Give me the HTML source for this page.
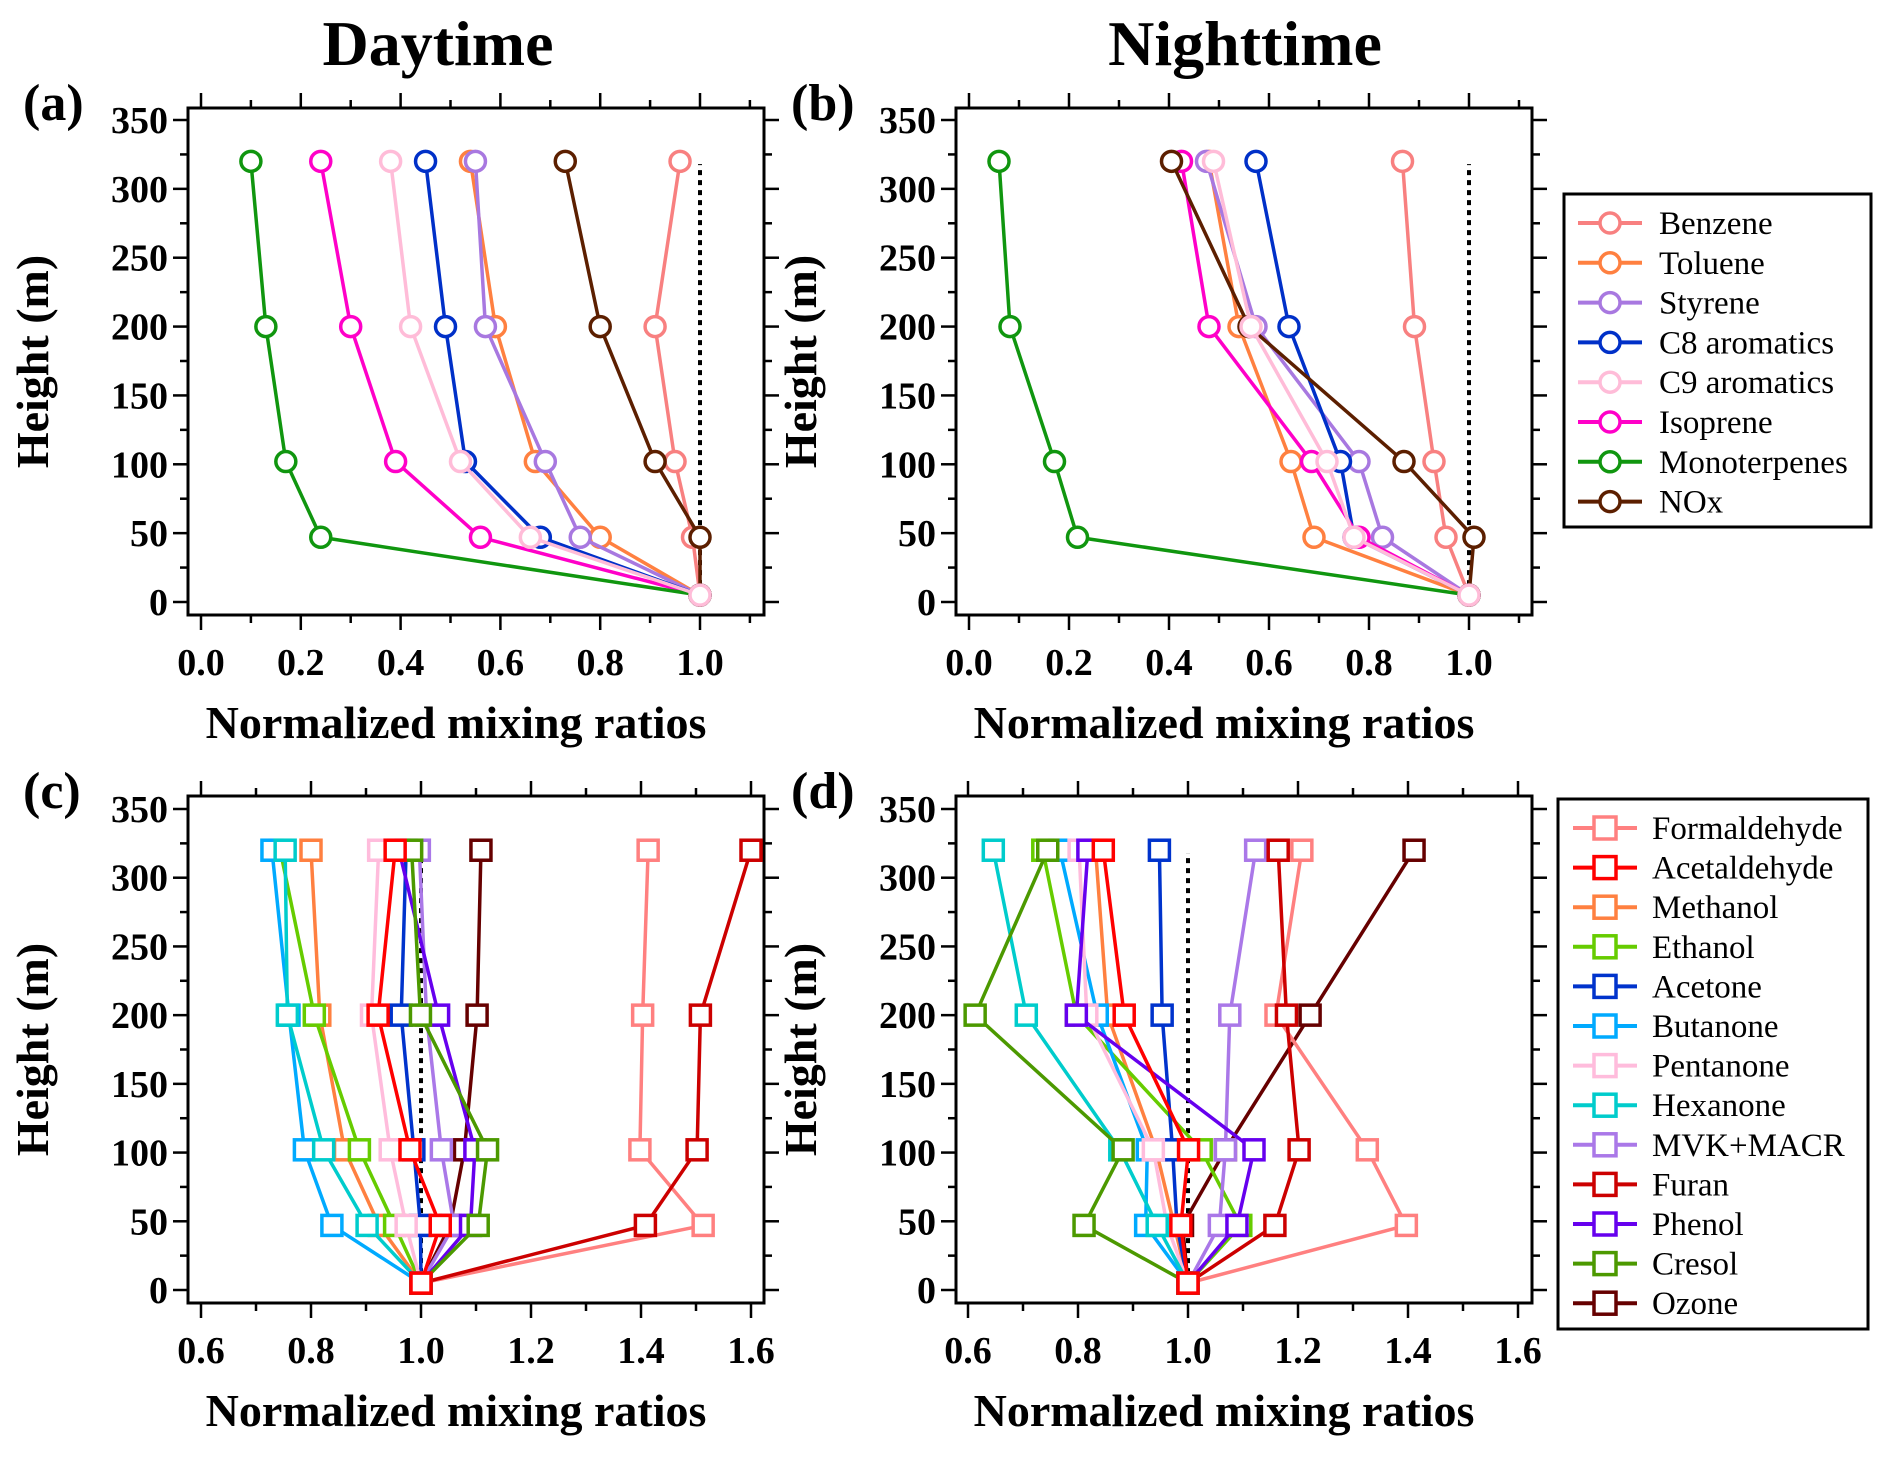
<!DOCTYPE html>
<html><head><meta charset="utf-8"><style>
html,body{margin:0;padding:0;background:#fff}
svg{display:block;font-family:"Liberation Serif",serif}
</style></head><body>
<svg id="fig" width="1891" height="1458" viewBox="0 0 1891 1458" xmlns="http://www.w3.org/2000/svg">
<text x="438" y="65" font-size="64" font-weight="bold" text-anchor="middle">Daytime</text>
<text x="1245" y="65" font-size="64" font-weight="bold" text-anchor="middle">Nighttime</text>
</svg>
<script>
const heights = [5, 47, 102, 200, 320];
const vocNames = ["Benzene","Toluene","Styrene","C8 aromatics","C9 aromatics","Isoprene","Monoterpenes","NOx"];
const vocColors = ["#f88080","#ff8040","#a878e0","#0030c8","#ffbcd8","#ff00c8","#10960f","#5c1f00"];
const dayA = [
 [1,0.985,0.95,0.91,0.96],
 [1,0.80,0.67,0.59,0.54],
 [1,0.76,0.69,0.57,0.55],
 [1,0.68,0.53,0.49,0.45],
 [1,0.66,0.52,0.42,0.38],
 [1,0.56,0.39,0.30,0.24],
 [1,0.24,0.17,0.13,0.10],
 [1,1.0,0.91,0.80,0.73]];
const nightB = [
 [1,0.954,0.93,0.891,0.867],
 [1,0.69,0.644,0.54,0.48],
 [1,0.827,0.78,0.574,0.475],
 [1,0.77,0.743,0.64,0.574],
 [1,0.77,0.716,0.564,0.489],
 [1,0.78,0.685,0.48,0.425],
 [1,0.217,0.171,0.082,0.06],
 [1,1.01,0.87,0.56,0.405]];
const ovocNames = ["Formaldehyde","Acetaldehyde","Methanol","Ethanol","Acetone","Butanone","Pentanone","Hexanone","MVK+MACR","Furan","Phenol","Cresol","Ozone"];
const ovocColors = ["#ff8080","#ff0000","#ff8040","#66cc00","#0033cc","#00aaff","#ffbcdc","#00cccc","#aa78e8","#cc0000","#6600ee","#4c9900","#660000"];
const dayC = [
 [1,1.513,1.398,1.403,1.413],
 [1,1.035,0.98,0.922,0.953],
 [1,0.924,0.861,0.816,0.80],
 [1,0.952,0.888,0.806,0.744],
 [1,0.999,0.987,0.964,0.973],
 [1,0.838,0.788,0.76,0.729],
 [1,0.973,0.944,0.91,0.923],
 [1,0.902,0.823,0.757,0.753],
 [1,1.06,1.037,1.01,0.997],
 [1,1.408,1.502,1.508,1.60],
 [1,1.09,1.098,1.032,0.96],
 [1,1.104,1.121,0.999,0.983],
 [1,1.053,1.079,1.102,1.109]];
const nightD = [
 [1,1.397,1.326,1.16,1.207],
 [1,0.987,1.001,0.884,0.846],
 [1,0.975,0.942,0.854,0.832],
 [1,1.096,1.024,0.797,0.736],
 [1,0.98,0.972,0.953,0.948],
 [1,0.923,0.926,0.835,0.767],
 [1,0.962,0.937,0.816,0.802],
 [1,0.944,0.876,0.706,0.646],
 [1,1.057,1.068,1.076,1.123],
 [1,1.158,1.202,1.179,1.164],
 [1,1.089,1.12,0.797,0.818],
 [1,0.811,0.882,0.613,0.745],
 [1,0.99,1.068,1.222,1.411]];
const xTicksTop = ["0.0","0.2","0.4","0.6","0.8","1.0"];
const xTicksBot = ["0.6","0.8","1.0","1.2","1.4","1.6"];
const yTicks = ["0","50","100","150","200","250","300","350"];
const vocOrder = [0,1,2,3,5,6,7,4];
const ovocOrder = [12,0,2,3,4,5,6,7,8,9,10,11,1];

const NS="http://www.w3.org/2000/svg";
const svg=document.getElementById('fig');
function mk(tag,attrs,parent){const e=document.createElementNS(NS,tag);for(const k in attrs)e.setAttribute(k,attrs[k]);(parent||svg).appendChild(e);return e;}

function panel(cfg){
  const g=mk('g',{});
  
  
  const X=v=>cfg.px0+(v-cfg.xmin)*cfg.pxPerUnit;
  const Y=h=>cfg.py0-h*(cfg.py0-cfg.py350)/350;
  const tk=mk('g',{stroke:'#000','stroke-width':2.5},g);
  
  
  for(let i=0;i<=cfg.nMinorX;i++){
    const v=cfg.xmin+i*cfg.minorX, x=X(v), len=(i%2===0)?15:8;
    mk('line',{x1:x,x2:x,y1:cfg.fy1,y2:cfg.fy1+len},tk);
    mk('line',{x1:x,x2:x,y1:cfg.fy0,y2:cfg.fy0-len},tk);
  }
  for(let i=0;i<=14;i++){
    const y=Y(i*25), len=(i%2===0)?15:8;
    mk('line',{x1:cfg.fx0,x2:cfg.fx0-len,y1:y,y2:y},tk);
    mk('line',{x1:cfg.fx1,x2:cfg.fx1+len,y1:y,y2:y},tk);
  }
  const fr=mk('rect',{x:cfg.fx0,y:cfg.fy0,width:cfg.fx1-cfg.fx0,height:cfg.fy1-cfg.fy0,fill:'none',stroke:'#000','stroke-width':3},g);
  
  
  cfg.xlabels.forEach((t,i)=>{
    const e=mk('text',{x:X(cfg.xmin+i*cfg.minorX*2),y:cfg.fy1+60,'font-size':38,'font-weight':'bold','text-anchor':'middle'},g);
    e.textContent=t;
    
    
  });
  yTicks.forEach(t=>{
    const e=mk('text',{x:cfg.fx0-20,y:Y(+t)+13,'font-size':38,'font-weight':'bold','text-anchor':'end'},g);
    e.textContent=t;
    
    
  });
  const xt=mk('text',{x:(cfg.fx0+cfg.fx1)/2-20,y:cfg.fy1+123,'font-size':46,'font-weight':'bold','text-anchor':'middle'},g);
  xt.textContent='Normalized mixing ratios';
  
  
  const yc=(cfg.fy0+cfg.fy1)/2, ytx=cfg.fx0-140;
  const yt=mk('text',{x:ytx,y:yc,'font-size':46,'font-weight':'bold','text-anchor':'middle',transform:`rotate(-90 ${ytx} ${yc})`},g);
  yt.textContent='Height (m)';
  
  
  const pl=mk('text',{x:cfg.fx0-165,y:cfg.fy0+12,'font-size':52,'font-weight':'bold'},g);
  pl.textContent=cfg.label;
  
  
  const dl=mk('line',{x1:X(1),x2:X(1),y1:Y(5),y2:Y(318),stroke:'#000','stroke-width':4,'stroke-dasharray':'5,5'},g);
  
  
  cfg.order.forEach(si=>{
    const vals=cfg.series[si];
    const col=cfg.colors[si];
    const sg=mk('g',{},g);
    
    
    const pts=vals.map((v,i)=>X(v)+','+Y(heights[i])).join(' ');
    mk('polyline',{points:pts,fill:'none',stroke:col,'stroke-width':3.5,'stroke-linejoin':'round'},sg);
    vals.forEach((v,i)=>{
      let m;
      if(cfg.marker==='circle') m=mk('ellipse',{cx:X(v),cy:Y(heights[i]),rx:10,ry:10,fill:'#fff',stroke:col,'stroke-width':3.5},sg);
      else m=mk('rect',{x:X(v)-10,y:Y(heights[i])-10,width:20,height:20,fill:'#fff',stroke:col,'stroke-width':3.5},sg);
      
      
    });
  });
}
function legend(cfg){
  const g=mk('g',{});
  
  
  mk('rect',{x:cfg.x0,y:cfg.y0,width:cfg.x1-cfg.x0,height:cfg.y1-cfg.y0,fill:'#fff',stroke:'#000','stroke-width':3},g);
  cfg.names.forEach((n,i)=>{
    const y=cfg.ey+i*cfg.step, col=cfg.colors[i];
    const eg=mk('g',{},g);
    
    
    mk('line',{x1:cfg.lx0,x2:cfg.lx0+64,y1:y,y2:y,stroke:col,'stroke-width':4},eg);
    const cx=cfg.lx0+32;
    if(cfg.marker==='circle') mk('circle',{cx:cx,cy:y,r:10,fill:'#fff',stroke:col,'stroke-width':3.5},eg);
    else mk('rect',{x:cx-11,y:y-11,width:22,height:22,fill:'#fff',stroke:col,'stroke-width':3.5},eg);
    const t=mk('text',{x:cfg.tx,y:y+11,'font-size':33},eg);
    t.textContent=n;
  });
}
const common={nMinorX:11,minorX:0.1};
panel(Object.assign({},common,{name:'panel-a',label:'(a)',fx0:188,fx1:764,fy0:108,fy1:615,px0:201,xmin:0,pxPerUnit:499,py0:602,py350:120,xlabels:xTicksTop,series:dayA,colors:vocColors,names:vocNames,marker:'circle',order:vocOrder}));
panel(Object.assign({},common,{name:'panel-b',label:'(b)',fx0:956,fx1:1532,fy0:108,fy1:615,px0:969,xmin:0,pxPerUnit:500,py0:602,py350:120,xlabels:xTicksTop,series:nightB,colors:vocColors,names:vocNames,marker:'circle',order:vocOrder}));
panel({name:'panel-c',label:'(c)',nMinorX:10,minorX:0.1,fx0:188,fx1:764,fy0:796,fy1:1303,px0:201,xmin:0.6,pxPerUnit:550,py0:1290,py350:809,xlabels:xTicksBot,series:dayC,colors:ovocColors,names:ovocNames,marker:'square',order:ovocOrder});
panel({name:'panel-d',label:'(d)',nMinorX:10,minorX:0.1,fx0:956,fx1:1532,fy0:796,fy1:1303,px0:968,xmin:0.6,pxPerUnit:550,py0:1290,py350:809,xlabels:xTicksBot,series:nightD,colors:ovocColors,names:ovocNames,marker:'square',order:ovocOrder});
legend({name:'legend-voc',x0:1564,x1:1871,y0:194,y1:527,ey:223,step:39.8,lx0:1578,tx:1659,names:vocNames,colors:vocColors,marker:'circle'});
legend({name:'legend-ovoc',x0:1558,x1:1868,y0:799,y1:1329,ey:828,step:39.6,lx0:1573,tx:1652,names:ovocNames,colors:ovocColors,marker:'square'});
</script>
</body></html>
